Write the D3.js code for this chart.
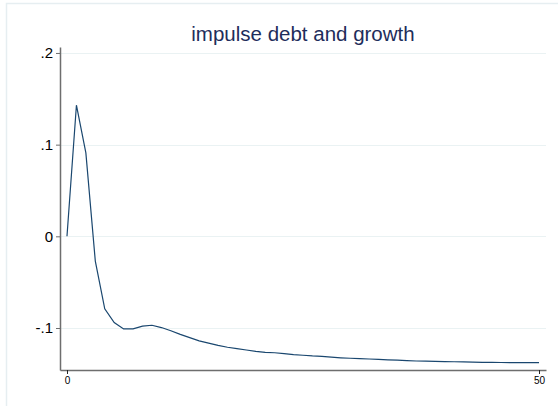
<!DOCTYPE html>
<html>
<head>
<meta charset="utf-8">
<script src="https://cdn.jsdelivr.net/npm/d3@7"></script>
<style>
  body { margin: 0; background: #fff; }
  svg { display: block; font-family: "Liberation Sans", Arial, sans-serif; }
</style>
</head>
<body>
<div id="chart"></div>
<script>
// horizon steps 0..50
const steps = d3.range(0, 51)
// impulse response
const response = [
  0, 0.143, 0.091, -0.027, -0.079, -0.094, -0.101, -0.101, -0.098, -0.097,
  -0.0995, -0.103, -0.107, -0.1105, -0.114, -0.1165, -0.119, -0.121, -0.1225, -0.124,
  -0.1255, -0.1265, -0.127, -0.128, -0.129, -0.1297, -0.1305, -0.131, -0.1318, -0.1325,
  -0.133, -0.1334, -0.1338, -0.1343, -0.1347, -0.135, -0.1355, -0.136, -0.1362, -0.1364,
  -0.1366, -0.1368, -0.137, -0.1372, -0.1374, -0.1375, -0.1376, -0.1377, -0.1377, -0.1378,
  -0.1378
]
const yTicks = [-0.1, 0, 0.1, 0.2]
const yTickLabels = ["-.1", "0", ".1", ".2"]
const xTicks = [0, 50]
const title = "impulse debt and growth"

const width = 558
const height = 406

const svg = d3.select("#chart")
  .append("svg")
  .attr("width", width)
  .attr("height", height)

// outer region frame
svg.append("rect")
  .attr("x", 6.5)
  .attr("y", 3.5)
  .attr("width", 600)
  .attr("height", 450)
  .attr("fill", "none")
  .attr("stroke", "#e6eef1")
  .attr("stroke-width", 1.5)

const x = d3.scaleLinear()
  .domain([-0.74, 50.74])
  .range([60, 546])

const y = d3.scaleLinear()
  .domain([-0.1458, 0.2065])
  .range([370, 47])

// gridlines
svg.append("g")
  .selectAll("line")
  .data(yTicks)
  .join("line")
  .attr("x1", 60)
  .attr("x2", 546)
  .attr("y1", d => Math.round(y(d)) + 0.5)
  .attr("y2", d => Math.round(y(d)) + 0.5)
  .attr("stroke", "#eaf2f3")
  .attr("stroke-width", 1.2)

const yAxis = svg.append("g")
  .attr("transform", "translate(60,0)")
  .call(d3.axisLeft(y)
    .tickValues(yTicks)
    .tickFormat((d, i) => yTickLabels[i])
    .tickSize(4)
    .tickSizeOuter(0)
    .tickPadding(3))

yAxis.select(".domain").attr("stroke", "#6e6e6e").attr("stroke-width", 1.5)
yAxis.selectAll(".tick line").attr("stroke", "#6e6e6e")
yAxis.selectAll(".tick text")
  .attr("font-size", 15)
  .attr("font-family", "Liberation Sans, Arial, sans-serif")
  .attr("fill", "#000")

const xAxis = svg.append("g")
  .attr("transform", "translate(0,370)")
  .call(d3.axisBottom(x)
    .tickValues(xTicks)
    .tickSize(4)
    .tickSizeOuter(0)
    .tickPadding(3))

xAxis.select(".domain").attr("stroke", "#6e6e6e").attr("stroke-width", 1.5)
xAxis.selectAll(".tick line").attr("stroke", "#222")
xAxis.selectAll(".tick text")
  .attr("font-size", 10)
  .attr("font-family", "Liberation Sans, Arial, sans-serif")
  .attr("fill", "#000")

const line = d3.line()
  .x((d, i) => x(steps[i]))
  .y(d => y(d))

svg.append("path")
  .datum(response)
  .attr("fill", "none")
  .attr("stroke", "#1a476f")
  .attr("stroke-width", 1.2)
  .attr("d", line)

svg.append("text")
  .attr("x", 303)
  .attr("y", 41)
  .attr("text-anchor", "middle")
  .attr("font-size", 20.5)
  .attr("fill", "#1e2d5b")
  .text(title)
</script>
</body>
</html>
